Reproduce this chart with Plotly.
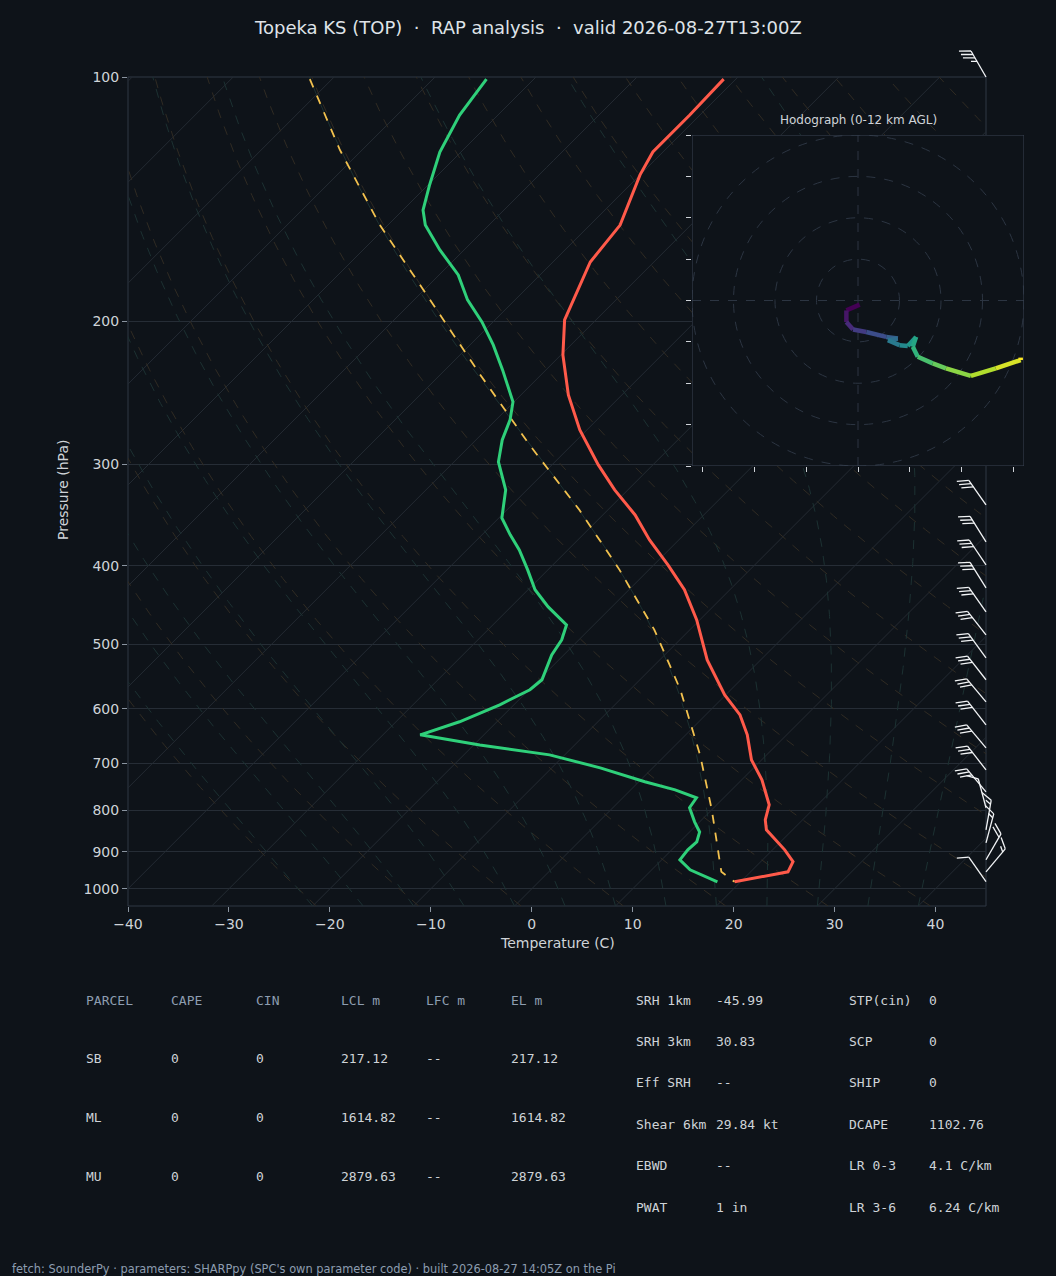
import numpy as np
import plotly.graph_objects as go
from plotly.colors import sample_colorscale

# ---------------- data ----------------
T_p = [100.6,111.4,123.7,132.0,152.2,169.0,199.2,220.0,246.4,272.1,300.5,322.6,346.3,371.7,399.0,428.2,466.4,522.4,576.9,610.6,646.2,693.8,734.0,788.0,822.3,845.9,895.4,926.1,953.0,980.4]
T_c = [-61.2,-61.0,-61.0,-60.0,-57.0,-56.3,-53.1,-49.8,-45.3,-40.7,-35.4,-31.3,-26.8,-22.9,-18.6,-14.5,-10.3,-5.3,-0.1,3.4,6.1,9.0,12.0,15.2,16.3,17.4,21.2,23.2,23.7,19.4]
Td_p = [100.6,111.4,123.7,136.1,145.9,152.2,163.3,175.3,188.2,200.3,213.8,229.5,251.3,264.5,279.9,297.9,322.6,349.3,366.4,382.5,404.7,428.2,449.5,473.1,493.5,515.0,552.7,568.6,593.4,622.7,646.2,664.9,683.9,709.6,738.2,755.2,772.5,794.6,827.1,851.1,875.5,895.4,921.0,947.5,980.4]
Td_c = [-84.7,-83.8,-82.1,-79.8,-78.0,-76.3,-72.4,-68.1,-64.7,-61.1,-57.7,-54.3,-50.1,-48.6,-47.4,-45.6,-42.1,-39.7,-37.2,-34.8,-32.0,-29.3,-26.3,-22.7,-21.7,-21.2,-19.7,-19.9,-21.4,-23.7,-26.3,-19.4,-11.5,-5.2,0.6,4.4,7.3,7.6,9.5,11.0,11.7,11.6,11.8,13.8,17.7]
Par_p = [100.6,123.0,152.2,188.2,232.8,283.9,341.5,404.7,479.8,568.6,683.9,799.1,895.4,953.0,980.4]
Par_c = [-102.2,-92.2,-80.8,-68.4,-56.0,-44.2,-32.8,-22.9,-13.5,-5.0,3.4,10.0,14.6,17.1,19.4]

hodo_u = [0.4,-2.8,-2.8,-1.2,2.0,6.8,9.6,7.2,10.0,12.0,14.0,13.2,14.4,18.0,21.2,27.2,33.2,39.2,39.2]
hodo_v = [-1.0,-2.4,-5.2,-7.0,-7.6,-8.8,-9.2,-9.6,-10.8,-11.0,-8.8,-11.2,-13.6,-15.2,-16.4,-18.2,-16.4,-14.4,-13.8]

barb_p = [100,336.6,373.8,399.0,425.8,456.0,486.7,519.4,552.7,588.4,628.0,670.6,713.6,759.5,794.6,845.9,877.8,921.0,953.0,980.0]
barb_dir = [330,325,328,326,328,325,322,324,322,320,322,320,322,320,345,10,15,30,40,325]
barb_spd = [35,30,30,30,30,30,30,30,30,30,30,30,30,30,10,15,15,20,15,10]

x_ticks = [-40,-30,-20,-10,0,10,20,30,40]
x_ticklabels = ["\u221240","\u221230","\u221220","\u221210","0","10","20","30","40"]
p_ticks = [100,200,300,400,500,600,700,800,900,1000]

title = "Topeka KS (TOP)  \u00b7  RAP analysis  \u00b7  valid 2026-08-27T13:00Z"
footer = "fetch: SounderPy \u00b7 parameters: SHARPpy (SPC's own parameter code) \u00b7 built 2026-08-27 14:05Z on the Pi"
parcel_hdr = ["PARCEL","CAPE","CIN","LCL m","LFC m","EL m"]
parcel_rows = [["SB","0","0","217.12","--","217.12"],
               ["ML","0","0","1614.82","--","1614.82"],
               ["MU","0","0","2879.63","--","2879.63"]]
mid_lbl = ["SRH 1km","SRH 3km","Eff SRH","Shear 6km","EBWD","PWAT"]
mid_val = ["-45.99","30.83","--","29.84 kt","--","1 in"]
rt_lbl = ["STP(cin)","SCP","SHIP","DCAPE","LR 0-3","LR 3-6"]
rt_val = ["0","0","0","1102.76","4.1 C/km","6.24 C/km"]

# ---------------- layout constants ----------------
W, H = 1056, 1276
BG = "#0e1319"
FG = "#cfd3d8"
HDR = "#8d9db0"
X0, X1, YT, YB = 128, 986, 77, 906
PMAX, PMIN = 1050.0, 100.0
SKEW = (YB - YT) / np.log10(PMAX / PMIN) / ((X1 - X0) / 85.0)

def sx(t, p):
    return np.asarray(t) + SKEW * np.log10(1000.0 / np.asarray(p))

def ypix(p):
    return YT + (YB - YT) * np.log10(np.asarray(p) / PMIN) / np.log10(PMAX / PMIN)

fig = go.Figure()
pp = np.logspace(np.log10(PMAX), np.log10(PMIN), 120)

for t in range(-130, 60, 10):
    fig.add_trace(go.Scatter(x=sx(t, pp), y=pp, mode="lines", line=dict(color="#242b33", width=1), hoverinfo="skip", showlegend=False))
for th in range(250, 481, 10):
    tt = th * (pp / 1000.0) ** 0.2857 - 273.15
    fig.add_trace(go.Scatter(x=sx(tt, pp), y=pp, mode="lines", line=dict(color="#302b23", width=1, dash="dash"), hoverinfo="skip", showlegend=False))

def es(tc):
    return 6.112 * np.exp(17.67 * tc / (tc + 243.5))
def moist(t0):
    ps = np.linspace(1050, 100, 400)
    T = t0 + 273.15
    out = [T]
    for i in range(1, len(ps)):
        p = ps[i - 1]
        rs = 0.622 * es(T - 273.15) / (p - es(T - 273.15))
        dTdp = (287.0 * T + 2.5e6 * rs) / (1004.0 + 2.5e6 ** 2 * rs * 0.622 / (287.0 * T * T)) / p
        T = T + dTdp * (ps[i] - p)
        out.append(T)
    return ps, np.array(out) - 273.15
for t0 in range(-20, 45, 5):
    ps, tt = moist(t0)
    fig.add_trace(go.Scatter(x=sx(tt, ps), y=ps, mode="lines", line=dict(color="#1c3132", width=1, dash="dash"), hoverinfo="skip", showlegend=False))

fig.add_trace(go.Scatter(x=sx(Par_c, Par_p), y=Par_p, mode="lines", line=dict(color="#f2c14e", width=1.8, dash="dash"), showlegend=False))
fig.add_trace(go.Scatter(x=sx(Td_c, Td_p), y=Td_p, mode="lines", line=dict(color="#2fd07a", width=3), showlegend=False))
fig.add_trace(go.Scatter(x=sx(T_c, T_p), y=T_p, mode="lines", line=dict(color="#ff5a4a", width=3), showlegend=False))

# wind barbs on pixel overlay
bx, by = [], []
for p, d, s in zip(barb_p, barb_dir, barb_spd):
    x0, y0 = float(X1), float(ypix(p))
    r = np.radians(d)
    sxv, syv = np.sin(r), -np.cos(r)
    L = 30.0
    tx, ty = x0 + L * sxv, y0 + L * syv
    bx += [x0, tx, None]; by += [y0, ty, None]
    px, py = syv, -sxv
    n_full, half = int(s // 10), (s % 10) >= 5
    pos = 0.0
    for k in range(n_full):
        ax, ay = tx - pos * sxv, ty - pos * syv
        bx += [ax, ax + 12 * (0.87 * px + 0.5 * sxv), None]
        by += [ay, ay + 12 * (0.87 * py + 0.5 * syv), None]
        pos += 4.0
    if half:
        if n_full == 0:
            pos = 4.0
        ax, ay = tx - pos * sxv, ty - pos * syv
        bx += [ax, ax + 6 * (0.87 * px + 0.5 * sxv), None]
        by += [ay, ay + 6 * (0.87 * py + 0.5 * syv), None]
fig.add_trace(go.Scatter(x=bx, y=by, xaxis="x3", yaxis="y3", mode="lines", line=dict(color="#f2f4f6", width=1.3), cliponaxis=False, hoverinfo="skip", showlegend=False))
fig.add_trace(go.Scatter(x=[0, W], y=[0, H], xaxis="x3", yaxis="y3", mode="markers", marker=dict(opacity=0), hoverinfo="skip", showlegend=False))

# ---------------- hodograph inset ----------------
shapes = []
shapes.append(dict(type="rect", xref="x4", yref="y4", x0=-40, x1=40, y0=-40, y1=40, fillcolor=BG, line=dict(width=0), layer="above"))
for rr in [10, 20, 30, 40]:
    shapes.append(dict(type="circle", xref="x4", yref="y4", x0=-rr, x1=rr, y0=-rr, y1=rr, line=dict(color="#2c3542", width=1, dash="dash"), layer="above"))
shapes.append(dict(type="line", xref="x4", yref="y4", x0=-40, x1=40, y0=0, y1=0, line=dict(color="#2c3542", width=1, dash="dash"), layer="above"))
shapes.append(dict(type="line", xref="x4", yref="y4", x0=0, x1=0, y0=-40, y1=40, line=dict(color="#2c3542", width=1, dash="dash"), layer="above"))
cols = sample_colorscale("Viridis", list(np.linspace(0, 1, len(hodo_u) - 1)))
for i in range(len(hodo_u) - 1):
    shapes.append(dict(type="line", xref="x4", yref="y4", x0=hodo_u[i], y0=hodo_v[i], x1=hodo_u[i + 1], y1=hodo_v[i + 1], line=dict(color=cols[i], width=4.5), layer="above"))
shapes.append(dict(type="rect", xref="x4", yref="y4", x0=-40, x1=40, y0=-40, y1=40, line=dict(color="#3a4554", width=1), layer="above"))
shapes.append(dict(type="rect", xref="paper", yref="paper", x0=X0 / W, x1=X1 / W, y0=1 - YB / H, y1=1 - YT / H, line=dict(color="#2f3845", width=1), layer="below"))

# ---------------- annotations ----------------
ann = []
def A(text, px, py, size=13, color=FG, xa="left", family="DejaVu Sans Mono", **kw):
    ann.append(dict(text=text, x=px / W, y=1 - py / H, xref="paper", yref="paper", xanchor=xa, yanchor="middle", showarrow=False, font=dict(size=size, color=color, family=family), **kw))
A(title, 528, 27, size=18, color="#dfe3e8", xa="center", family="DejaVu Sans")
A("Hodograph (0-12 km AGL)", 858, 120, size=12, color="#cfd3d8", xa="center", family="DejaVu Sans")
A("Temperature (C)", 557, 943, size=14, color=FG, xa="center", family="DejaVu Sans")
A("Pressure (hPa)", 63, 490, size=14, color=FG, xa="center", family="DejaVu Sans", textangle=-90)
A(footer, 10, 1269, size=11.4, color=HDR, family="DejaVu Sans")
colx = [84, 169, 254, 339, 424, 509]
for j, h in enumerate(parcel_hdr):
    A(h, colx[j], 1000, color=HDR)
for i, row in enumerate(parcel_rows):
    for j, v in enumerate(row):
        A(v, colx[j], 1058 + i * 59, color=FG)
for i in range(6):
    yy = 1000 + i * 41.4
    A(mid_lbl[i], 634, yy); A(mid_val[i], 714, yy)
    A(rt_lbl[i], 847, yy); A(rt_val[i], 927, yy)

fig.update_layout(
    width=W, height=H, margin=dict(l=0, r=0, t=0, b=0, pad=0, autoexpand=False), autosize=False,
    paper_bgcolor=BG, plot_bgcolor="rgba(0,0,0,0)", showlegend=False,
    xaxis=dict(domain=[X0 / W, X1 / W], range=[-40, 45], tickvals=x_ticks, ticktext=x_ticklabels, showgrid=False, zeroline=False,
               ticks="outside", ticklen=5, tickcolor="#8a94a0", tickfont=dict(size=14, color=FG, family="DejaVu Sans"), anchor="y", automargin=False),
    yaxis=dict(domain=[1 - YB / H, 1 - YT / H], type="log", range=[np.log10(PMAX), np.log10(PMIN)], tickvals=p_ticks, ticktext=[str(v) for v in p_ticks],
               showgrid=True, gridcolor="#262d36", gridwidth=1, zeroline=False, ticks="outside", ticklen=5, tickcolor="#8a94a0",
               tickfont=dict(size=14, color=FG, family="DejaVu Sans"), anchor="x", automargin=False),
    xaxis3=dict(domain=[0, 1], range=[0, W], visible=False, anchor="y3", fixedrange=True, automargin=False),
    yaxis3=dict(domain=[0, 1], range=[H, 0], visible=False, anchor="x3", fixedrange=True, automargin=False),
    xaxis4=dict(domain=[692 / W, 1024 / W], range=[-40, 40], anchor="y4", showgrid=False, zeroline=False, showticklabels=False, automargin=False,
                ticks="outside", ticklen=5, tickcolor="#cfd3d8", tickvals=list(np.arange(-37.5, 40, 12.5)), showline=False),
    yaxis4=dict(domain=[1 - 466 / H, 1 - 135 / H], range=[-40, 40], anchor="x4", showgrid=False, zeroline=False, showticklabels=False, automargin=False,
                ticks="outside", ticklen=5, tickcolor="#cfd3d8", tickvals=list(np.arange(-40, 41, 10)), showline=False),
    shapes=shapes, annotations=ann,
)
fig.add_trace(go.Scatter(x=[0], y=[0], xaxis="x4", yaxis="y4", mode="markers", marker=dict(opacity=0), hoverinfo="skip", showlegend=False))
fig.write_html("out.html", config={"responsive": False, "displayModeBar": False},
               post_script="document.body.style.margin='0';document.body.style.overflow='hidden';")
